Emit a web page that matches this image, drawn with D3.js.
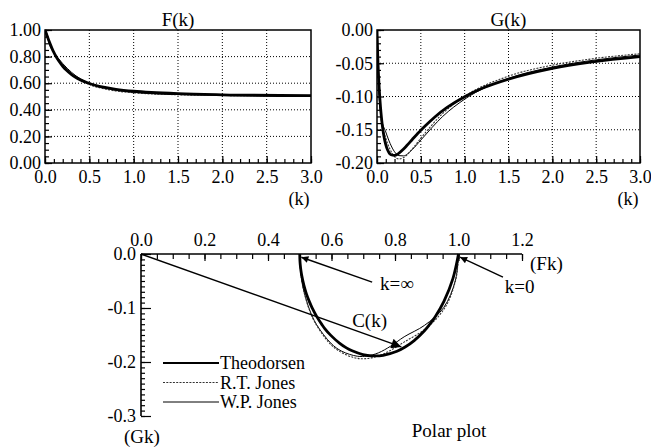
<!DOCTYPE html>
<html>
<head>
<meta charset="utf-8">
<script src="https://cdn.jsdelivr.net/npm/d3@7"></script>
<style>
  body { margin: 0; background: #fff; }
  svg { display: block; }
  text { font-family: "Liberation Serif", Tinos, "Times New Roman", Times, "Nimbus Roman", "Nimbus Roman No9 L", "Noto Serif", "DejaVu Serif", FreeSerif, serif; }
</style>
</head>
<body>
<script>
// Theodorsen function values
const kTheo = [0, 0.01, 0.025, 0.04, 0.05, 0.06, 0.08, 0.1, 0.12, 0.16, 0.2, 0.24, 0.3, 0.34, 0.4, 0.5, 0.6, 0.66, 0.8, 1.0, 1.2, 1.5, 2.0, 3.0, 4.0, 6.0, 10.0];
const FTheo = [1, 0.9824, 0.9545, 0.9267, 0.909, 0.892, 0.8604, 0.8319, 0.8063, 0.7628, 0.7276, 0.6989, 0.665, 0.6469, 0.625, 0.5979, 0.5788, 0.5699, 0.5541, 0.5394, 0.53, 0.521, 0.5129, 0.5063, 0.5037, 0.5017, 0.5006];
const GTheo = [0, -0.0456, -0.0872, -0.116, -0.1305, -0.1426, -0.1604, -0.1723, -0.1801, -0.1876, -0.1886, -0.1862, -0.1793, -0.1738, -0.165, -0.1507, -0.138, -0.1308, -0.1165, -0.1003, -0.0877, -0.0739, -0.0577, -0.04, -0.0305, -0.0206, -0.0124];

// R.T. Jones and W.P. Jones approximations
const kJones = [0, 0.01, 0.025, 0.05, 0.1, 0.15, 0.2, 0.25, 0.3, 0.4, 0.5, 0.75, 1.0, 1.5, 2.0, 2.5, 3.0, 6.0, 10.0];
const FRT = [1, 0.992, 0.9594, 0.9007, 0.8298, 0.7819, 0.74, 0.703, 0.6712, 0.6227, 0.5901, 0.5468, 0.528, 0.513, 0.5075, 0.5048, 0.5033, 0.5008, 0.5003];
const GRT = [0, -0.0458, -0.0974, -0.1365, -0.1627, -0.1798, -0.1903, -0.1939, -0.192, -0.1793, -0.1627, -0.1255, -0.0997, -0.0694, -0.0529, -0.0426, -0.0357, -0.018, -0.0108];
const FWP = [1, 0.9904, 0.9533, 0.8933, 0.8289, 0.7862, 0.7476, 0.7123, 0.6813, 0.6324, 0.5985, 0.5521, 0.5314, 0.5147, 0.5084, 0.5054, 0.5038, 0.5009, 0.5003];
const GWP = [0, -0.0485, -0.0993, -0.132, -0.1533, -0.1707, -0.1831, -0.1889, -0.1893, -0.1801, -0.1655, -0.1299, -0.104, -0.0728, -0.0557, -0.0449, -0.0376, -0.0189, -0.0114];

// k -> infinity limit
const limitF = 0.5;
const limitG = 0;

// tick labels
const kTicks = [0, 0.5, 1.0, 1.5, 2.0, 2.5, 3.0];
const fTicks = [0, 0.2, 0.4, 0.6, 0.8, 1.0];
const gTicks = [0, -0.05, -0.10, -0.15, -0.20];
const polarFTicks = [0, 0.2, 0.4, 0.6, 0.8, 1.0, 1.2];
const polarGTicks = [0, -0.1, -0.2, -0.3];

const seriesNames = ["Theodorsen", "R.T. Jones", "W.P. Jones"];

let svgWidth = 651;
let svgHeight = 447;

let series = [
    {name: seriesNames[0], k: kTheo, F: FTheo, G: GTheo},
    {name: seriesNames[1], k: kJones, F: FRT, G: GRT},
    {name: seriesNames[2], k: kJones, F: FWP, G: GWP}
].map(s => ({name: s.name, pts: s.k.map((k, i) => ({k: k, F: s.F[i], G: s.G[i]}))}));

let styles = {
    "Theodorsen": {width: 2.8, dash: null, color: "#000"},
    "R.T. Jones": {width: 1.1, dash: "2,1.3", color: "#333"},
    "W.P. Jones": {width: 1.0, dash: null, color: "#000"}
};

let svg = d3.select("body")
    .append("svg")
    .attr("width", svgWidth)
    .attr("height", svgHeight);

function styleAxis(g) {
    g.attr("font-family", null).attr("font-size", 18);
    g.select(".domain").remove();
    g.selectAll("line").attr("stroke", "#000").attr("stroke-width", 1.2);
    g.selectAll("text").attr("fill", "#000");
}

// F(k) and G(k) panels
function kPanel(box, yDomain, yTicks, yMinorStep, fmt, key, title) {
    let x = d3.scaleLinear().domain([0, 3]).range([box.left, box.right]);
    let y = d3.scaleLinear().domain(yDomain).range([box.bottom, box.top]);
    let g = svg.append("g");

    // dotted grid
    g.selectAll(".vgrid").data(kTicks.slice(1, -1)).join("line")
        .attr("x1", d => x(d)).attr("x2", d => x(d))
        .attr("y1", box.top).attr("y2", box.bottom)
        .attr("stroke", "#000").attr("stroke-width", 1).attr("stroke-dasharray", "1,2");
    g.selectAll(".hgrid").data(yTicks.slice(1, -1)).join("line")
        .attr("x1", box.left).attr("x2", box.right)
        .attr("y1", d => y(d)).attr("y2", d => y(d))
        .attr("stroke", "#000").attr("stroke-width", 1).attr("stroke-dasharray", "1,2");

    // bottom axis
    g.append("g")
        .attr("transform", `translate(0, ${box.bottom})`)
        .call(d3.axisBottom(x).tickValues(d3.range(0, 3.001, 0.1)).tickSize(-4).tickFormat(""))
        .call(styleAxis);
    g.append("g")
        .attr("transform", `translate(0, ${box.bottom})`)
        .call(d3.axisBottom(x).tickValues(kTicks).tickSize(-7).tickPadding(7).tickFormat(d => d.toFixed(1)))
        .call(styleAxis);

    // left axis
    let lo = d3.min(yDomain), hi = d3.max(yDomain);
    g.append("g")
        .attr("transform", `translate(${box.left}, 0)`)
        .call(d3.axisLeft(y).tickValues(d3.range(lo, hi + 1e-6, yMinorStep)).tickSize(-4).tickFormat(""))
        .call(styleAxis);
    g.append("g")
        .attr("transform", `translate(${box.left}, 0)`)
        .call(d3.axisLeft(y).tickValues(yTicks).tickSize(-7).tickPadding(4).tickFormat(fmt))
        .call(styleAxis);

    let line = d3.line()
        .x(d => x(d.k))
        .y(d => y(d[key]))
        .curve(d3.curveMonotoneX);

    let clipId = "clip-" + key;
    svg.append("clipPath").attr("id", clipId)
        .append("rect")
        .attr("x", box.left).attr("y", box.top - 2)
        .attr("width", box.right - box.left).attr("height", box.bottom - box.top + 4);

    g.append("g").attr("clip-path", `url(#${clipId})`)
        .selectAll("path").data(series.slice().reverse()).join("path")
        .attr("d", s => line(s.pts.filter(p => p.k <= 3.0)))
        .attr("fill", "none")
        .attr("stroke", s => styles[s.name].color)
        .attr("stroke-width", s => styles[s.name].width)
        .attr("stroke-dasharray", s => styles[s.name].dash);

    // frame
    g.append("rect")
        .attr("x", box.left).attr("y", box.top)
        .attr("width", box.right - box.left).attr("height", box.bottom - box.top)
        .attr("fill", "none").attr("stroke", "#000").attr("stroke-width", 1.5);

    g.append("text")
        .attr("x", (box.left + box.right) / 2).attr("y", box.top - 4)
        .attr("text-anchor", "middle").attr("font-size", 19)
        .text(title);
    g.append("text")
        .attr("x", box.right - 12).attr("y", box.bottom + 42)
        .attr("text-anchor", "middle").attr("font-size", 18)
        .text("(k)");
}

kPanel({left: 45, right: 311, top: 30, bottom: 163}, [0, 1], fTicks, 0.05, d => d.toFixed(2), "F", "F(k)");
kPanel({left: 377, right: 640, top: 30, bottom: 163}, [-0.2, 0], gTicks, 0.01, d => d.toFixed(2), "G", "G(k)");

// polar plot
let xP = d3.scaleLinear().domain([0, 1.2]).range([141, 522]);
let yP = d3.scaleLinear().domain([-0.3, 0]).range([416, 254]);
let polar = svg.append("g");

polar.append("g")
    .attr("transform", `translate(0, ${yP(0)})`)
    .call(d3.axisTop(xP).tickValues(d3.range(0, 1.2001, 0.05)).tickSize(-5).tickFormat(""))
    .call(styleAxis);
polar.append("g")
    .attr("transform", `translate(0, ${yP(0)})`)
    .call(d3.axisTop(xP).tickValues(polarFTicks).tickSize(-7).tickPadding(8).tickFormat(d => d.toFixed(1)))
    .call(styleAxis);
polar.append("line")
    .attr("x1", xP(0)).attr("x2", xP(1.2)).attr("y1", yP(0)).attr("y2", yP(0))
    .attr("stroke", "#000").attr("stroke-width", 1.6);

polar.append("g")
    .attr("transform", `translate(${xP(0)}, 0)`)
    .call(d3.axisLeft(yP).tickValues(d3.range(-0.3, 0.0001, 0.01)).tickSize(-4).tickFormat(""))
    .call(styleAxis);
polar.append("g")
    .attr("transform", `translate(${xP(0)}, 0)`)
    .call(d3.axisLeft(yP).tickValues(polarGTicks).tickSize(-10).tickPadding(5).tickFormat(d => d.toFixed(1)))
    .call(styleAxis);
polar.append("line")
    .attr("x1", xP(0)).attr("x2", xP(0)).attr("y1", yP(0)).attr("y2", yP(-0.3))
    .attr("stroke", "#000").attr("stroke-width", 1.6);

let polarLine = d3.line()
    .x(d => xP(d.F))
    .y(d => yP(d.G))
    .curve(d3.curveCatmullRom);

polar.selectAll(".curve").data(series.slice().reverse()).join("path")
    .attr("d", s => polarLine(s.pts.concat([{F: limitF, G: limitG}])))
    .attr("fill", "none")
    .attr("stroke", s => styles[s.name].color)
    .attr("stroke-width", s => styles[s.name].width)
    .attr("stroke-dasharray", s => styles[s.name].dash);

// arrowheads
let defs = svg.append("defs");
defs.append("marker").attr("id", "headSmall")
    .attr("viewBox", "0 0 10 10").attr("refX", 10).attr("refY", 5)
    .attr("markerUnits", "userSpaceOnUse").attr("markerWidth", 10).attr("markerHeight", 7)
    .attr("orient", "auto")
    .append("path").attr("d", "M0,0 L10,5 L0,10 Z").attr("fill", "#000");
defs.append("marker").attr("id", "headBig")
    .attr("viewBox", "0 0 10 10").attr("refX", 10).attr("refY", 5)
    .attr("markerUnits", "userSpaceOnUse").attr("markerWidth", 19).attr("markerHeight", 10)
    .attr("orient", "auto")
    .append("path").attr("d", "M0,0 L10,5 L0,10 Z").attr("fill", "#000");

let notes = [
    {label: "k=\u221E", tail: [0.728, -0.052], tip: [0.505, -0.006], at: [0.753, -0.066], head: "headSmall"},
    {label: "k=0", tail: [1.14, -0.043], tip: [1.005, -0.006], at: [1.146, -0.073], head: "headSmall"},
    {label: "C(k)", tail: [0, 0], tip: [0.82, -0.172], at: [0.665, -0.136], head: "headBig"}
];

polar.selectAll(".arrow").data(notes).join("line")
    .attr("x1", d => xP(d.tail[0])).attr("y1", d => yP(d.tail[1]))
    .attr("x2", d => xP(d.tip[0])).attr("y2", d => yP(d.tip[1]))
    .attr("stroke", "#000").attr("stroke-width", 1.4)
    .attr("marker-end", d => `url(#${d.head})`);

polar.selectAll(".note").data(notes).join("text")
    .attr("x", d => xP(d.at[0])).attr("y", d => yP(d.at[1]))
    .attr("font-size", 19)
    .text(d => d.label);

polar.append("text").attr("x", 530).attr("y", 270).attr("font-size", 19).text("(Fk)");
polar.append("text").attr("x", 142).attr("y", 443).attr("text-anchor", "middle").attr("font-size", 19).text("(Gk)");
polar.append("text").attr("x", 449).attr("y", 437).attr("text-anchor", "middle").attr("font-size", 19).text("Polar plot");

// legend
let legend = polar.selectAll(".legend").data(seriesNames).join("g")
    .attr("transform", (d, i) => `translate(163, ${363 + i * 19.5})`);
legend.append("line")
    .attr("x1", 0).attr("x2", 56).attr("y1", 0).attr("y2", 0)
    .attr("stroke", d => styles[d].color)
    .attr("stroke-width", d => d === "Theodorsen" ? 2 : styles[d].width)
    .attr("stroke-dasharray", d => styles[d].dash);
legend.append("text")
    .attr("x", 57).attr("y", 6)
    .attr("font-size", 18)
    .text(d => d);
</script>
</body>
</html>
